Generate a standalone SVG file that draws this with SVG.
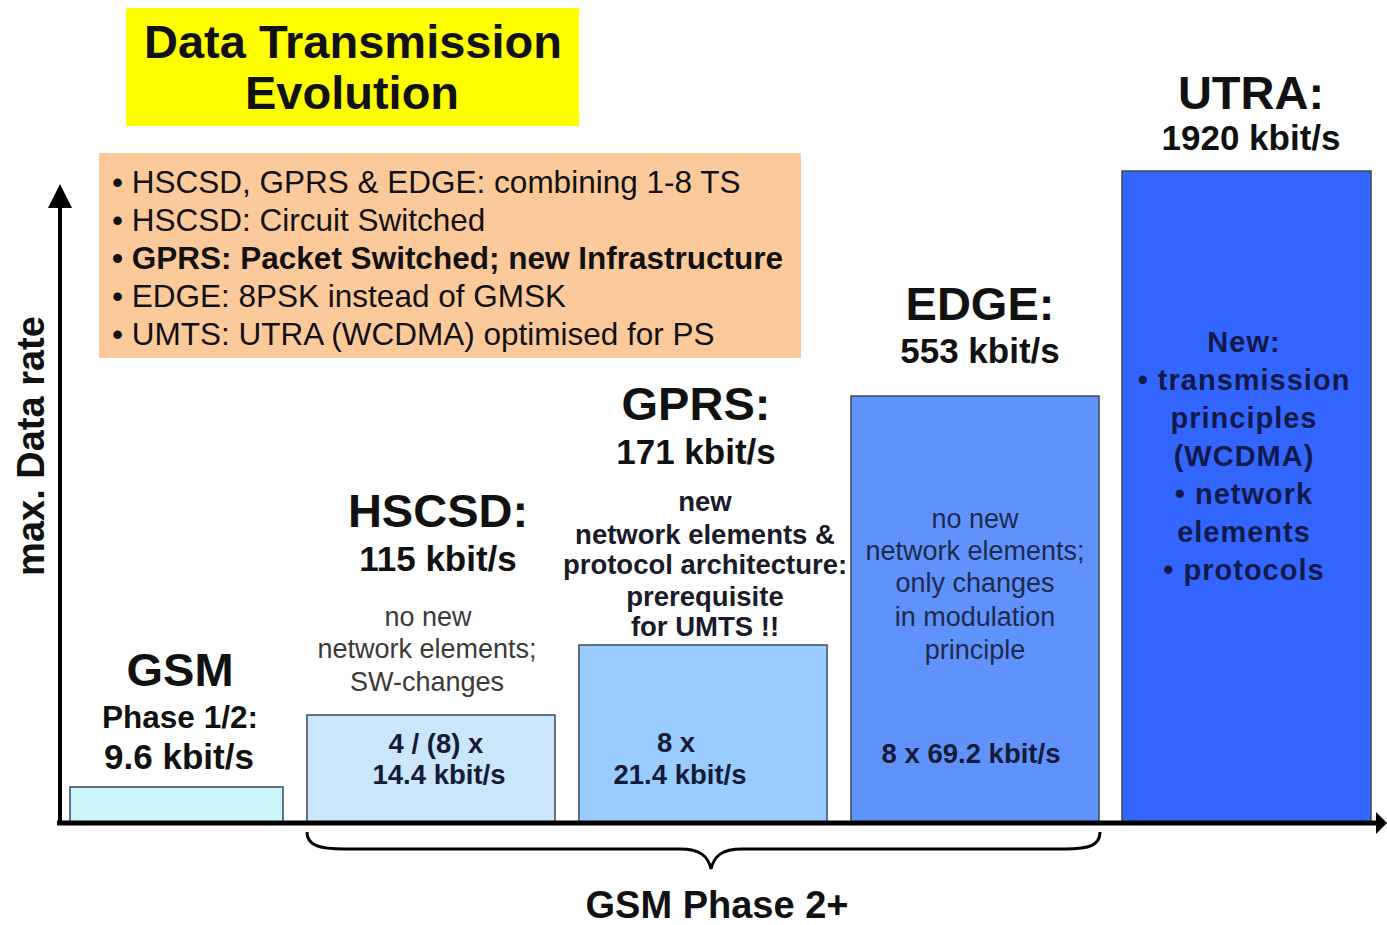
<svg xmlns="http://www.w3.org/2000/svg" width="1387" height="925" viewBox="0 0 1387 925">
  <defs>
    <style>
      text { font-family: "Liberation Sans", Arial, sans-serif; fill: #111; }
      .b { font-weight: bold; }
      .mid { text-anchor: middle; }
      .big { font-size: 47px; font-weight: bold; }
      .rate { font-size: 35px; font-weight: bold; }
      .note { font-size: 27px; fill: #3a3a3a; }
      .noteb { font-size: 27.5px; font-weight: bold; fill: #1a1a2a; }
      .inbar { font-size: 27.5px; font-weight: bold; fill: #141a38; }
      .utra { font-size: 29px; font-weight: bold; letter-spacing: 1px; fill: #10194a; text-anchor: middle; }
      .bar { stroke: #3d4660; stroke-width: 1.5; }
      .axis { stroke: #000; stroke-width: 5; fill: none; }
    </style>
  </defs>

  <rect width="1387" height="925" fill="#ffffff"/>

  <!-- title -->
  <g id="title">
    <rect x="126" y="8" width="453" height="118" fill="#ffff00"/>
    <text class="big mid" x="353" y="58">Data Transmission</text>
    <text class="big mid" x="352" y="109">Evolution</text>
  </g>

  <!-- key facts -->
  <g id="facts" style="font-size:31.5px">
    <rect x="99" y="153" width="702" height="205" fill="#fbc99a"/>
    <text x="112" y="193">• HSCSD, GPRS &amp; EDGE: combining 1-8 TS</text>
    <text x="112" y="231">• HSCSD: Circuit Switched</text>
    <text x="112" y="269" class="b">• GPRS: Packet Switched; new Infrastructure</text>
    <text x="112" y="307">• EDGE: 8PSK instead of GMSK</text>
    <text x="112" y="345">• UMTS: UTRA (WCDMA) optimised for PS</text>
  </g>

  <!-- bars -->
  <g id="gsm">
    <rect class="bar" x="70" y="787" width="213" height="36" fill="#ccf6fb"/>
    <text class="big mid" x="180" y="686">GSM</text>
    <text class="mid b" style="font-size:31.5px" x="180" y="728">Phase 1/2:</text>
    <text class="rate mid" x="179" y="769">9.6 kbit/s</text>
  </g>

  <g id="hscsd">
    <rect class="bar" x="307" y="715" width="248" height="108" fill="#c9e6fb"/>
    <text class="big mid" x="438" y="527">HSCSD:</text>
    <text class="rate mid" x="438" y="571">115 kbit/s</text>
    <text class="note mid" x="428" y="626">no new</text>
    <text class="note mid" x="427" y="658">network elements;</text>
    <text class="note mid" x="427" y="691">SW-changes</text>
    <text class="inbar mid" x="436" y="753">4 / (8) x</text>
    <text class="inbar mid" x="439" y="784">14.4 kbit/s</text>
  </g>

  <g id="gprs">
    <rect class="bar" x="579" y="645" width="248" height="178" fill="#99ccff"/>
    <text class="big mid" x="696" y="420">GPRS:</text>
    <text class="rate mid" x="696" y="464">171 kbit/s</text>
    <text class="noteb mid" x="705" y="511">new</text>
    <text class="noteb mid" x="705" y="544">network elements &amp;</text>
    <text class="noteb mid" x="705" y="574">protocol architecture:</text>
    <text class="noteb mid" x="705" y="606">prerequisite</text>
    <text class="noteb mid" x="705" y="636">for UMTS !!</text>
    <text class="inbar mid" x="676" y="752">8 x</text>
    <text class="inbar mid" x="680" y="784">21.4 kbit/s</text>
  </g>

  <g id="edge">
    <rect class="bar" x="851" y="396" width="248" height="427" fill="#5f93fb"/>
    <text class="big mid" x="980" y="320">EDGE:</text>
    <text class="rate mid" x="980" y="363">553 kbit/s</text>
    <text class="note mid" x="975" y="528" style="fill:#1e2a50">no new</text>
    <text class="note mid" x="975" y="560" style="fill:#1e2a50">network elements;</text>
    <text class="note mid" x="975" y="592" style="fill:#1e2a50">only changes</text>
    <text class="note mid" x="975" y="626" style="fill:#1e2a50">in modulation</text>
    <text class="note mid" x="975" y="659" style="fill:#1e2a50">principle</text>
    <text class="inbar mid" x="971" y="763">8 x 69.2 kbit/s</text>
  </g>

  <g id="utra">
    <rect class="bar" x="1122" y="171" width="249" height="652" fill="#3366ff"/>
    <text class="big mid" x="1251" y="109">UTRA:</text>
    <text class="rate mid" x="1251" y="150">1920 kbit/s</text>
    <text class="utra" x="1244" y="352">New:</text>
    <text class="utra" x="1244" y="390">• transmission</text>
    <text class="utra" x="1244" y="428">principles</text>
    <text class="utra" x="1244" y="466">(WCDMA)</text>
    <text class="utra" x="1244" y="504">• network</text>
    <text class="utra" x="1244" y="542">elements</text>
    <text class="utra" x="1244" y="580">• protocols</text>
  </g>

  <!-- axes and brace -->
  <g id="connectors">
    <line class="axis" x1="60" y1="823" x2="60" y2="205" style="stroke-width:4"/>
    <polygon points="60,184 48,208 72,208" fill="#000"/>
    <line class="axis" x1="57" y1="823" x2="1378" y2="823"/>
    <polygon points="1387,823 1376,812 1376,834" fill="#000"/>
    <path d="M307,832 C307,845 318,849 345,849 L680,849 C700,849 708,856 711,869 C714,856 722,849 742,849 L1065,849 C1090,849 1100,845 1100,832"
          fill="none" stroke="#000" stroke-width="3"/>
  </g>

  <g id="labels">
    <text class="b mid" style="font-size:38px" transform="translate(44,446) rotate(-90)">max. Data rate</text>
    <text class="b mid" style="font-size:38px" x="717" y="918">GSM Phase 2+</text>
  </g>
</svg>
